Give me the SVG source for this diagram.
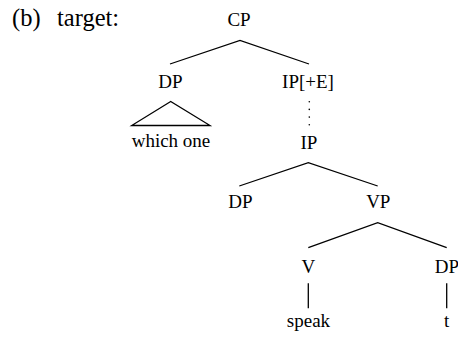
<svg xmlns="http://www.w3.org/2000/svg" width="458" height="337" viewBox="0 0 458 337">
<style>
text{font-family:"Liberation Serif","Times New Roman",serif;fill:#000}
.n{font-size:19px;text-anchor:middle}
.h{font-size:24.5px}
.e{stroke:#000;stroke-width:1.3;fill:none;stroke-linecap:butt}
.d{fill:#000}
</style>
<rect width="458" height="337" fill="#fff"/>
<g id="header"><text class="h" x="12" y="26">(b)</text><text class="h" x="57" y="26">target:</text></g>
<g id="cp"><text class="n" x="239" y="26">CP</text></g>
<g id="dp1"><text class="n" x="170.5" y="88">DP</text></g>
<g id="which"><text class="n" x="171" y="147">which one</text></g>
<g id="ipe"><text class="n" x="308" y="88">IP[+E]</text></g>
<g id="ip"><text class="n" x="309" y="149">IP</text></g>
<g id="dp2"><text class="n" x="240.5" y="208">DP</text></g>
<g id="vp"><text class="n" x="378.3" y="208">VP</text></g>
<g id="v"><text class="n" x="308.3" y="272.5">V</text></g>
<g id="dp3"><text class="n" x="447" y="272.5">DP</text></g>
<g id="speak"><text class="n" x="308.5" y="327">speak</text></g>
<g id="t"><text class="n" x="446.7" y="327">t</text></g>
<g id="connectors">
<polyline class="e" points="170,64 240,40.5 309,64"/>
<polygon class="e" points="170.7,101.5 131.7,125.5 210,125.5"/>
<circle class="d" cx="309.3" cy="101.7" r="0.8"/>
<circle class="d" cx="309.3" cy="109.4" r="0.8"/>
<circle class="d" cx="309.3" cy="117.1" r="0.8"/>
<circle class="d" cx="309.3" cy="124.8" r="0.8"/>
<polyline class="e" points="239.3,186 308.3,162.7 377.7,186"/>
<polyline class="e" points="308.3,247.7 377.7,222.7 446.7,247.7"/>
<line class="e" x1="308.3" y1="283.3" x2="308.3" y2="308.3"/>
<line class="e" x1="446.7" y1="283.3" x2="446.7" y2="308.3"/>
</g>
</svg>
